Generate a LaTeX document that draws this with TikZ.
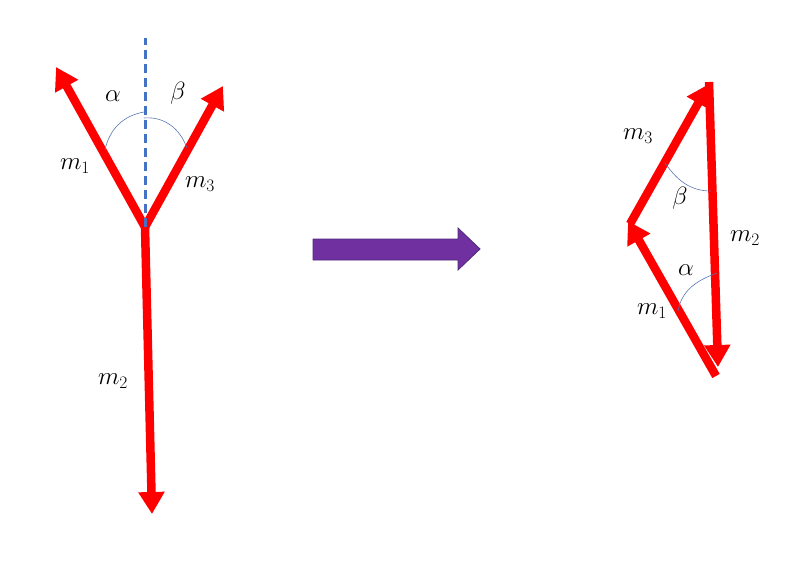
\documentclass[tikz,border=0pt]{standalone}
\usepackage{fix-cm}
\usetikzlibrary{arrows.meta}
\definecolor{vred}{RGB}{255,0,0}
\definecolor{dashblue}{RGB}{68,114,196}
\definecolor{arcblue}{RGB}{90,120,175}
\definecolor{vpurple}{RGB}{112,48,160}
\definecolor{vpurpleedge}{RGB}{80,40,120}
\tikzset{
  vec/.style={draw=vred, line width=8.5pt, -{Triangle[width=25pt,length=22pt]}},
  angarc/.style={draw=arcblue, line width=0.6pt},
  lbl/.style={font=\fontsize{25}{30}\selectfont, inner sep=0pt},
}
\begin{document}
\begin{tikzpicture}[x=1pt,y=-1pt]
\useasboundingbox (0,0) rectangle (800,564);
% left figure
\coordinate (J) at (145,227);
\coordinate (T1) at (56,67);
\coordinate (T3) at (223,86);
\coordinate (T2) at (152,514);
\coordinate (D) at (145,38);
\draw[vec] (J) -- (T1);
\draw[vec] (J) -- (T3);
\draw[vec] (J) -- (T2);
\draw[dashblue, line width=3pt, dash pattern=on 9pt off 5pt] (J) -- (D);
\draw[angarc] (105,150) to[out=78,in=190] (144,112);
\draw[angarc] (144,118) to[out=5,in=110] (187,148);
\node[lbl] (la) at (113,96) {$\alpha$};
\node[lbl] (lb) at (178,93) {$\beta$};
\node[lbl] (lm1) at (75,166) {$m_1$};
\node[lbl] (lm3) at (200,184) {$m_3$};
\node[lbl] (lm2) at (113,381) {$m_2$};
% big arrow
\draw[fill=vpurple, draw=vpurpleedge, line width=0.8pt]
  (313,239) -- (458,239) -- (458,228) -- (480,249) -- (458,270) -- (458,260) -- (313,260) -- cycle;
% right figure
\coordinate (B) at (716,376);
\coordinate (L) at (628,221);
\coordinate (Tp) at (709,84);
\coordinate (Bt) at (718,367);
\draw[vec] (B) -- (L);
\draw[vec] ([xshift=2pt,yshift=-3pt]L) -- (Tp);
\draw[vec] ([yshift=2pt]Tp) -- (Bt);
\draw[angarc] (665,163) to[out=-55,in=180] (711,191);
\draw[angarc] (678,311) to[out=80,in=200] (717,273);
\node[lbl] (rm3) at (638,136) {$m_3$};
\node[lbl] (rb) at (680,198) {$\beta$};
\node[lbl] (rm2) at (745,238) {$m_2$};
\node[lbl] (ra) at (686,270) {$\alpha$};
\node[lbl] (rm1) at (652,311) {$m_1$};
\end{tikzpicture}
\end{document}
